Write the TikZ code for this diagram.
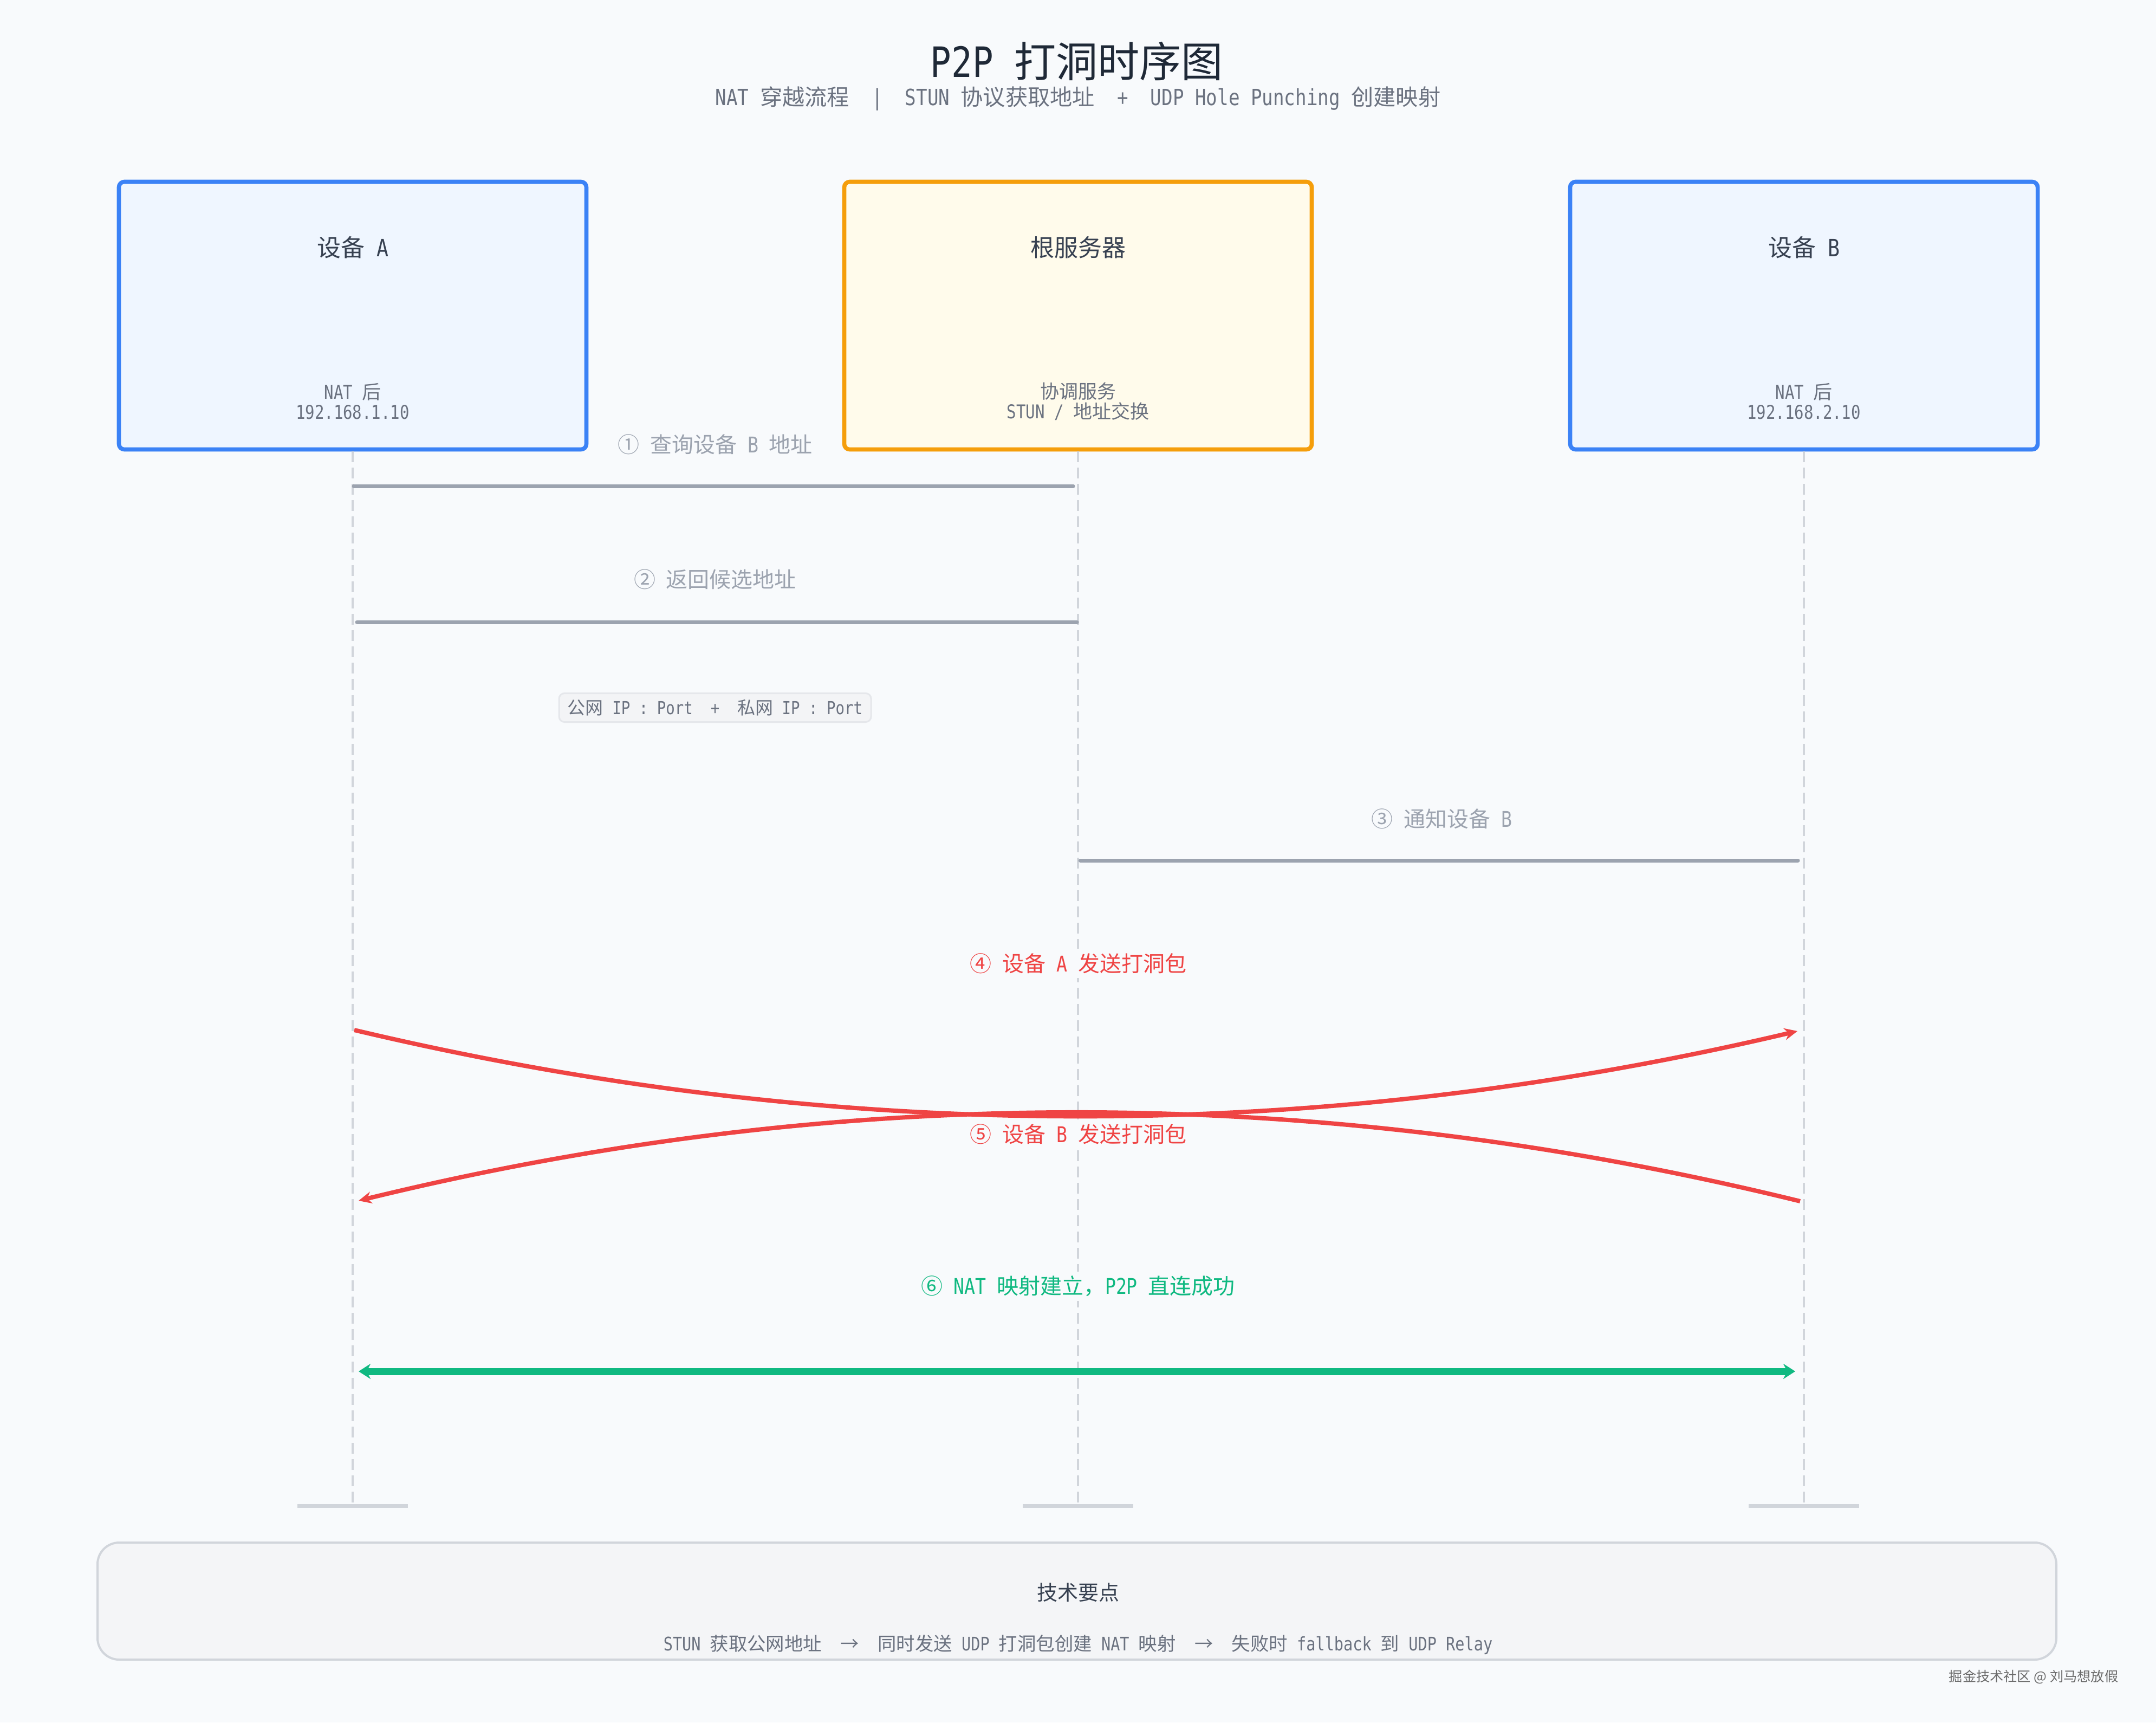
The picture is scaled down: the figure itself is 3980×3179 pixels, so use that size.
\documentclass[tikz,border=0pt]{standalone}
\usepackage{fontspec}
\setmainfont[FakeStretch=0.83]{DejaVu Sans Mono}
\newfontfamily\cjk{Noto Sans CJK SC}
\newcommand\C[1]{{\cjk #1}}
\usetikzlibrary{arrows.meta}
\definecolor{bg}{HTML}{F8FAFC}
\definecolor{bluef}{HTML}{EFF6FF}
\definecolor{blueb}{HTML}{3B82F6}
\definecolor{amberf}{HTML}{FFFBEB}
\definecolor{amberb}{HTML}{F59E0B}
\definecolor{ink}{HTML}{1F2937}
\definecolor{ink2}{HTML}{374151}
\definecolor{mute}{HTML}{6B7280}
\definecolor{lgrey}{HTML}{9CA3AF}
\definecolor{life}{HTML}{D1D5DB}
\definecolor{redc}{HTML}{EF4444}
\definecolor{greenc}{HTML}{10B981}
\definecolor{notef}{HTML}{F3F4F6}
\definecolor{noteb}{HTML}{E5E7EB}
\definecolor{botf}{HTML}{F4F5F7}
\definecolor{wm}{HTML}{6B6B6B}
\tikzset{
  every node/.style={inner sep=0pt},
  maintitle/.style={font=\fontsize{19.3pt}{23pt}\selectfont, text=ink},
  subtitle/.style={font=\fontsize{10.3pt}{12pt}\selectfont, text=mute},
  devbox/.style={draw=blueb, fill=bluef, line width=1.9pt, rounded corners=2.5pt,
    minimum width=215.75pt, minimum height=123.5pt},
  srvbox/.style={devbox, draw=amberb, fill=amberf},
  boxtitle/.style={font=\fontsize{11pt}{13pt}\selectfont, text=ink2},
  boxsub/.style={font=\fontsize{8.75pt}{9.25pt}\selectfont, text=mute, align=center},
  lifeline/.style={draw=life, line width=1pt, dash pattern=on 5pt off 2.5pt},
  endbar/.style={draw=life, line width=1.75pt},
  msg/.style={draw=lgrey, line width=1.75pt, line cap=round},
  punch/.style={draw=redc, line width=2pt, -{Stealth[length=6pt,width=5.5pt]}},
  direct/.style={draw=greenc, line width=3.25pt, {Stealth[length=5.5pt,width=7pt]}-{Stealth[length=5.5pt,width=7pt]}},
  lbl/.style={font=\fontsize{10pt}{12pt}\selectfont, text=lgrey, fill=bg, inner xsep=4pt, inner ysep=2pt},
  notebox/.style={draw=noteb, fill=notef, line width=0.75pt, rounded corners=2.5pt,
    minimum width=144pt, minimum height=13.25pt, font=\fontsize{8.25pt}{10pt}\selectfont, text=mute},
  techbox/.style={draw=life, fill=botf, line width=1pt, rounded corners=10pt,
    minimum width=904pt, minimum height=54pt},
  techtitle/.style={font=\fontsize{9.5pt}{11pt}\selectfont, text=ink2},
  techtext/.style={font=\fontsize{8.6pt}{10pt}\selectfont, text=mute},
  watermark/.style={font=\cjk\fontsize{6.3pt}{7.5pt}\selectfont, text=wm}
}
\begin{document}
\begin{tikzpicture}[x=0.25pt,y=-0.25pt]
\useasboundingbox (0,0) rectangle (3980,3179);
\fill[bg] (0,0) rectangle (3980,3179);

% title
\node[maintitle] (title) at (1988,113) {P2P \C{打洞时序图}};
\node[subtitle] (subtitle) at (1990,182) {NAT \C{穿越流程}~~|~~STUN \C{协议获取地址}~~+~~UDP Hole Punching \C{创建映射}};

% lifeline ends
\coordinate (Aend) at (651,2779);
\coordinate (Send) at (1990,2779);
\coordinate (Bend) at (3330,2779);

% participant boxes
\node[devbox] (A) at (651,582.5) {};
\node[srvbox] (S) at (1990,582.5) {};
\node[devbox] (B) at (3330,582.5) {};

% lifelines
\draw[lifeline] (A.south) -- (Aend);
\draw[lifeline] (S.south) -- (Send);
\draw[lifeline] (B.south) -- (Bend);
\draw[endbar] ([xshift=-25.5pt]Aend) -- ([xshift=25.5pt]Aend);
\draw[endbar] ([xshift=-25.5pt]Send) -- ([xshift=25.5pt]Send);
\draw[endbar] ([xshift=-25.5pt]Bend) -- ([xshift=25.5pt]Bend);

% box texts
\node[boxtitle] (Atitle) at (651,457) {\C{设备} A};
\node[boxsub] (Asub) at (651,741) {NAT \C{后}\\192.168.1.10};
\node[boxtitle] (Stitle) at (1990,457) {\C{根服务器}};
\node[boxsub] (Ssub) at (1990,741) {\C{协调服务}\\STUN / \C{地址交换}};
\node[boxtitle] (Btitle) at (3330,457) {\C{设备} B};
\node[boxsub] (Bsub) at (3330,741) {NAT \C{后}\\192.168.2.10};

% message end points
\coordinate (m1s) at (653,897);  \coordinate (m1e) at (1981,897);
\coordinate (m2s) at (1988,1148); \coordinate (m2e) at (659,1148);
\coordinate (m3s) at (1994,1588); \coordinate (m3e) at (3319,1588);
\coordinate (m4s) at (654,1901);  \coordinate (m4e) at (3318,1903);
\coordinate (m5s) at (3323,2217); \coordinate (m5e) at (662,2216);
\coordinate (m6s) at (662,2531);  \coordinate (m6e) at (3314,2531);

% messages
\draw[msg] (m1s) -- (m1e);
\draw[msg] (m2s) -- (m2e);
\draw[msg] (m3s) -- (m3e);
\draw[punch] (m4s) .. controls (1542,2112) and (2430,2113) .. (m4e);
\draw[punch] (m5s) .. controls (2436,1999) and (1549,1999) .. (m5e);
\draw[direct] (m6s) -- (m6e);

% labels
\node[lbl] (l1) at (1320,820) {\C{①} \C{查询设备} B \C{地址}};
\node[lbl] (l2) at (1320,1069) {\C{②} \C{返回候选地址}};
\node[notebox] (note) at (1320,1306) {\C{公网} IP : Port~~+~~\C{私网} IP : Port};
\node[lbl] (l3) at (2661,1511) {\C{③} \C{通知设备} B};
\node[lbl, text=redc] (l4) at (1990,1778) {\C{④} \C{设备} A \C{发送打洞包}};
\node[lbl, text=redc] (l5) at (1990,2093) {\C{⑤} \C{设备} B \C{发送打洞包}};
\node[lbl, text=greenc] (l6) at (1990,2374) {\C{⑥} NAT \C{映射建立，}P2P \C{直连成功}};

% technical box
\node[techbox] (tech) at (1988,2955) {};
\node[techtitle] (techt) at (1990,2939) {\C{技术要点}};
\node[techtext] (techx) at (1990,3036) {STUN \C{获取公网地址}~~\C{→}~~\C{同时发送} UDP \C{打洞包创建} NAT \C{映射}~~\C{→}~~\C{失败时} fallback \C{到} UDP Relay};

% watermark
\node[watermark] (wm) at (3754,3095) {掘金技术社区 @ 刘马想放假};
\end{tikzpicture}
\end{document}
